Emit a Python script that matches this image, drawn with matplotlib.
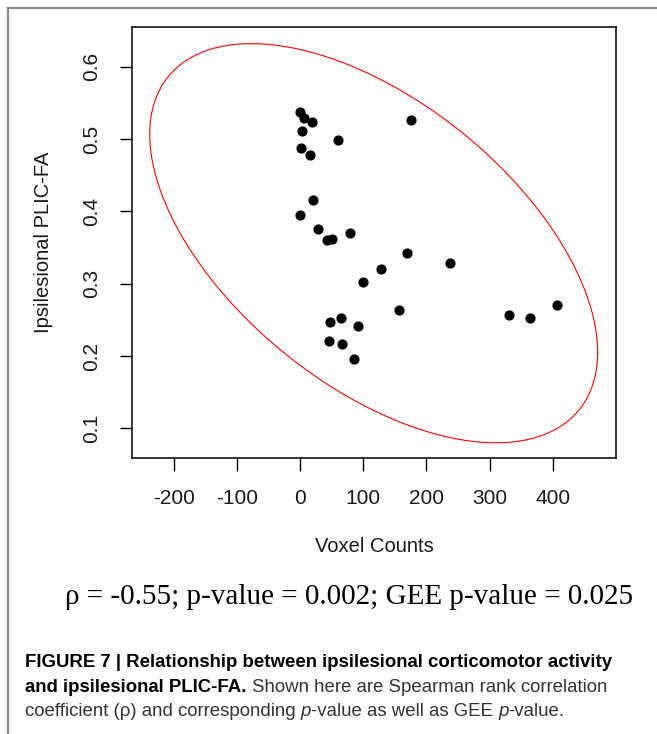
import matplotlib
matplotlib.use("Agg")
import matplotlib.pyplot as plt
from matplotlib import font_manager
from matplotlib.lines import Line2D
import numpy as np

# data
voxel_counts = [0, 6, 19, 3, 60, 176, 2, 15, 21, 0, 28, 42, 50, 79, 170, 237, 128,
                100, 156, 47, 64, 91, 45, 67, 86, 330, 364, 406]
plic_fa = [0.538, 0.529, 0.523, 0.511, 0.499, 0.527, 0.488, 0.478, 0.416, 0.395,
           0.375, 0.360, 0.362, 0.370, 0.343, 0.329, 0.321, 0.303, 0.264, 0.247,
           0.253, 0.242, 0.221, 0.216, 0.196, 0.257, 0.253, 0.270]

# data ellipse: centre, half extents and correlation
ell_center = (116.5, 0.356)
ell_half = (354.5, 0.276)
ell_rho = -0.546

x_ticks = [-200, -100, 0, 100, 200, 300, 400]
y_ticks = [0.1, 0.2, 0.3, 0.4, 0.5, 0.6]

stats_text = "\u03c1 = -0.55; p-value = 0.002; GEE p-value = 0.025"

# caption lines: (text, weight, style)
caption = [
    [("FIGURE 7 | Relationship between ipsilesional corticomotor activity", "bold", "normal")],
    [("and ipsilesional PLIC-FA. ", "bold", "normal"),
     ("Shown here are Spearman rank correlation", "normal", "normal")],
    [("coefficient (\u03c1) and corresponding ", "normal", "normal"), ("p", "normal", "italic"),
     ("-value as well as GEE ", "normal", "normal"), ("p", "normal", "italic"),
     ("-value.", "normal", "normal")],
]
caption_baselines = [667, 692, 716]

installed = {f.name for f in font_manager.fontManager.ttflist}
sans = "Liberation Sans" if "Liberation Sans" in installed else "DejaVu Sans"
serif = "Liberation Serif" if "Liberation Serif" in installed else "DejaVu Serif"

fig = plt.figure(figsize=(6.57, 7.34), dpi=100)
W, H = 657, 734

# grey page frame (left and top)
fig.add_artist(Line2D([8 / W, 8 / W], [0, 1 - 8 / H], color="#8a8a8a", lw=1.6))
fig.add_artist(Line2D([8 / W, 1], [1 - 8 / H, 1 - 8 / H], color="#8a8a8a", lw=1.6))

ax = fig.add_axes([132 / W, 1 - 458 / H, 484 / W, 431 / H])

t = np.linspace(0, 2 * np.pi, 300)
ex = ell_center[0] + ell_half[0] * np.cos(t)
ey = ell_center[1] + ell_half[1] * (ell_rho * np.cos(t) + np.sqrt(1 - ell_rho ** 2) * np.sin(t))
ax.plot(ex, ey, color="red", lw=0.8)

ax.scatter(voxel_counts, plic_fa, s=40, color="black", zorder=3)

ax.set_xlim(-266, 500)
ax.set_ylim(0.059, 0.655)
ax.set_xticks(x_ticks)
ax.set_yticks(y_ticks)
ax.set_xticklabels([str(v) for v in x_ticks], fontfamily=sans, fontsize=15, color="#1a1a1a")
ax.set_yticklabels([str(v) for v in y_ticks], fontfamily=sans, fontsize=15, color="#1a1a1a",
                   rotation=90, va="center")
ax.tick_params(length=9, width=1, pad=13)
for sp in ax.spines.values():
    sp.set_linewidth(1.1)

ax.set_xlabel("Voxel Counts", fontfamily=sans, fontsize=14.5, color="#1a1a1a")
ax.xaxis.set_label_coords(0.5, -(546 - 458) / 431)
ax.xaxis.label.set_va("center")
ax.set_ylabel("Ipsilesional PLIC-FA", fontfamily=sans, fontsize=14.5, color="#1a1a1a")
ax.yaxis.set_label_coords((44 - 132) / 484, 0.5)
ax.yaxis.label.set_va("center")

fig.text(349 / W, 1 - 597 / H, stats_text, fontfamily=serif, fontsize=21,
         ha="center", va="center", color="black")

# caption, pieces placed one after another on each line
renderer = fig.canvas.get_renderer()
for line, base in zip(caption, caption_baselines):
    x = 25
    for txt, weight, style in line:
        color = "black" if weight == "bold" else "#333333"
        tx = fig.text(x / W, 1 - base / H, txt, fontfamily=sans, fontsize=13.4,
                      fontweight=weight, style=style, color=color, va="baseline")
        x = tx.get_window_extent(renderer).x1

plt.savefig("out.png", dpi=100)
